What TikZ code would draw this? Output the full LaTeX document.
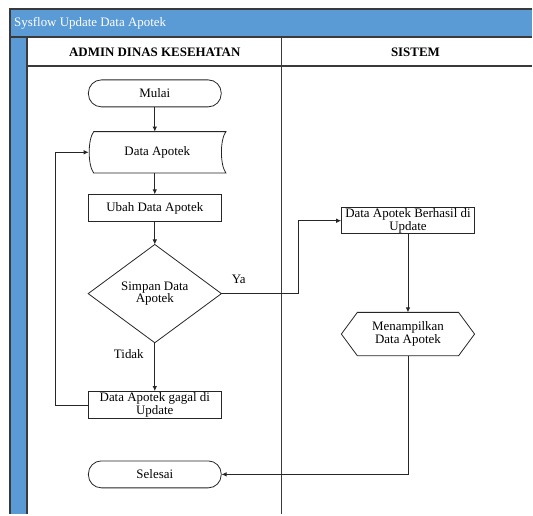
\documentclass[tikz,border=0pt]{standalone}
\usepackage{fontspec}
\setmainfont{Liberation Serif}
\usetikzlibrary{arrows.meta,calc}
\definecolor{laneblue}{HTML}{5B9BD5}
\definecolor{laneline}{HTML}{3A3A3A}
\begin{document}
\begin{tikzpicture}[x=1bp,y=-1bp,
  every node/.style={font=\fontsize{13}{12.5}\selectfont, inner sep=0pt, align=center},
  shapeline/.style={draw=black!85, line width=0.8bp},
  box/.style={shapeline, minimum width=133bp, minimum height=27bp},
  term/.style={box, rounded corners=13bp},
  flow/.style={draw=black!85, -{Latex[length=5bp,width=4.5bp]}, line width=0.8bp},
  lane/.style={draw=laneline, line width=1.4bp}]
% canvas
\fill[white] (0,0) rectangle (533,515);
% pool
\fill[laneblue] (10,9) rectangle (533,37);
\fill[laneblue] (10,37) rectangle (27,515);
\draw[lane] (533,9) -- (10,9) -- (10,515);
\draw[lane] (10,37) -- (533,37);
\draw[lane] (27,37) -- (27,515);
\draw[lane] (27,66) -- (533,66);
\draw[lane] (282,37) -- (282,515);
\node[anchor=west, text=white] (title) at (14,23) {Sysflow Update Data Apotek};
\node[font=\fontsize{13}{12.5}\selectfont\bfseries] (lane1) at (155,52) {ADMIN DINAS KESEHATAN};
\node[font=\fontsize{13}{12.5}\selectfont\bfseries] (lane2) at (416,52) {SISTEM};
% nodes
\node[term] (start) at (155,93.5) {Mulai};
\node[minimum width=137bp, minimum height=41bp] (da) at (157.5,152.5) {Data Apotek};
\draw[shapeline] ($(da.north west)+(5,0)$) -- (da.north east)
  .. controls +(-6,8) and +(-6,-8) .. (da.south east)
  -- ($(da.south west)+(5,0)$)
  .. controls +(-6,-8) and +(-6,8) .. ($(da.north west)+(5,0)$) -- cycle;
\node[box] (ubah) at (155,208.5) {Ubah Data Apotek};
\node[minimum width=133bp, minimum height=98bp] (dec) at (155,294) {Simpan Data\\Apotek};
\draw[shapeline] (dec.north) -- (dec.east) -- (dec.south) -- (dec.west) -- cycle;
\node[box] (gagal) at (155,405.5) {Data Apotek gagal di\\Update};
\node[term] (end) at (155,475) {Selesai};
\node[box, minimum height=26bp] (ok) at (408.5,221) {Data Apotek Berhasil di\\Update};
\node[minimum width=133bp, minimum height=43bp] (hex) at (408.5,334.5) {Menampilkan\\Data Apotek};
\draw[shapeline] (hex.west) -- ($(hex.north west)+(16,0)$) -- ($(hex.north east)+(-16,0)$)
  -- (hex.east) -- ($(hex.south east)+(-16,0)$) -- ($(hex.south west)+(16,0)$) -- cycle;
\node (ya) at (239,280) {Ya};
\node (tidak) at (129,355) {Tidak};
% connectors
\draw[flow] (start.south) -- (start.south |- da.north);
\draw[flow] (ubah.north |- da.south) -- (ubah.north);
\draw[flow] (ubah) -- (dec);
\draw[flow] (dec) -- (gagal);
\draw[flow] (gagal.west) -- ++(-33,0) |- (da.west);
\draw[flow] (dec.east) -- ++(77,0) |- (ok.west);
\draw[flow] (ok) -- (hex);
\draw[flow] (hex.south) |- (end.east);
\end{tikzpicture}
\end{document}
